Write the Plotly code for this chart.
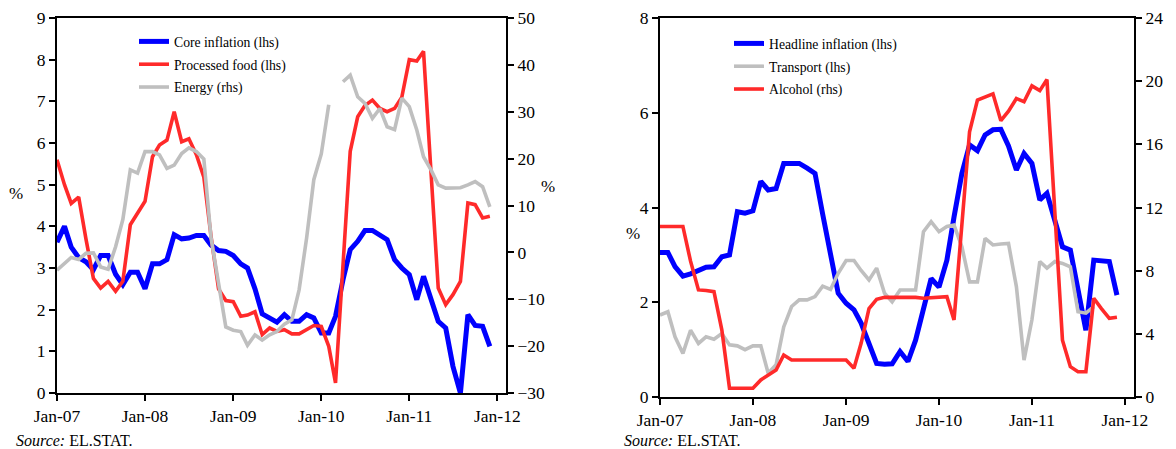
import pandas as pd
import plotly.graph_objects as go

W, H = 1176, 449
months = pd.date_range("2007-01-01", periods=60, freq="MS")

# ---- Left chart data ----
core_inflation = [3.62, 4.0, 3.5, 3.25, 3.15, 2.96, 3.3, 3.3, 2.85, 2.6,
                  2.9, 2.9, 2.5, 3.1, 3.1, 3.2, 3.8, 3.7, 3.72, 3.78,
                  3.78, 3.55, 3.42, 3.4, 3.3, 3.1, 3.0, 2.5, 1.9, 1.8,
                  1.7, 1.88, 1.72, 1.72, 1.88, 1.8, 1.44, 1.44, 1.84, 2.72,
                  3.44, 3.64, 3.9, 3.9, 3.8, 3.68, 3.2, 3.0, 2.84, 2.24,
                  2.8, 2.24, 1.72, 1.56, 0.64, 0.0, 1.88, 1.62, 1.6, 1.12]
processed_food = [5.6, 5.0, 4.55, 4.7, 3.7, 2.75, 2.52, 2.68, 2.44, 2.68,
                  4.04, 4.32, 4.6, 5.67, 5.95, 6.07, 6.75, 6.03, 6.1, 5.72,
                  5.18, 3.75, 2.5, 2.22, 2.19, 1.84, 1.87, 1.95, 1.4, 1.56,
                  1.48, 1.52, 1.42, 1.42, 1.52, 1.62, 1.6, 1.12, 0.24, 3.0,
                  5.8, 6.63, 6.9, 7.03, 6.83, 6.75, 6.83, 7.1, 8.0, 7.97,
                  8.2, 5.3, 2.52, 2.12, 2.36, 2.68, 4.56, 4.52, 4.2, 4.24]
energy = [-3.8, -2.4, -1.1, -1.5, -0.2, -0.1, -3.1, -3.6, 1.2, 7.0,
          17.6, 16.9, 21.5, 21.5, 20.8, 17.9, 18.6, 21.1, 22.3, 21.5,
          19.9, 3.0, -7.0, -15.9, -16.6, -16.9, -19.8, -17.6, -18.7, -17.6,
          -16.9, -15.3, -14.4, -8.0, 3.0, 15.5, 21.0, 31.5, None, 36.4,
          37.8, 33.2, 31.8, 28.6, 30.7, 26.8, 26.2, 32.9, 31.1, 26.1,
          20.4, 17.6, 14.4, 13.7, 13.7, 13.8, 14.4, 15.1, 14.0, 9.7]

# ---- Right chart data ----
headline_inflation = [3.05, 3.05, 2.75, 2.55, 2.6, 2.67, 2.74, 2.75, 2.96, 3.0,
                      3.91, 3.88, 3.93, 4.55, 4.37, 4.4, 4.93, 4.93, 4.93, 4.83,
                      4.72, 3.86, 3.02, 2.19, 1.98, 1.84, 1.56, 1.13, 0.71, 0.69,
                      0.7, 0.96, 0.75, 1.2, 1.84, 2.5, 2.32, 2.89, 3.8, 4.72,
                      5.32, 5.2, 5.53, 5.64, 5.65, 5.3, 4.79, 5.14, 4.93, 4.16,
                      4.3, 3.7, 3.17, 3.1, 2.2, 1.41, 2.89, 2.88, 2.86, 2.15]
transport = [1.73, 1.8, 1.27, 0.92, 1.41, 1.13, 1.27, 1.22, 1.34, 1.1,
             1.08, 1.0, 1.08, 1.08, 0.5, 0.68, 1.48, 1.91, 2.05, 2.05,
             2.12, 2.34, 2.27, 2.61, 2.88, 2.88, 2.67, 2.47, 2.72, 2.19,
             2.01, 2.26, 2.26, 2.26, 3.49, 3.7, 3.49, 3.6, 3.63, 3.17,
             2.43, 2.43, 3.35, 3.21, 3.23, 3.24, 2.33, 0.78, 1.63, 2.86,
             2.72, 2.86, 2.82, 2.75, 1.8, 1.77, 1.91, None, None, None]
alcohol = [10.8, 10.8, 10.8, 10.8, 8.6, 6.78, 6.74, 6.67, 4.24, 0.55,
           0.55, 0.55, 0.55, 1.08, 1.39, 1.71, 2.66, 2.34, 2.34, 2.34,
           2.34, 2.34, 2.34, 2.34, 2.34, 1.82, 3.4, 5.6, 6.19, 6.31,
           6.31, 6.31, 6.31, 6.31, 6.25, 6.3, 6.32, 6.35, 4.88, 10.8,
           16.8, 18.8, 19.0, 19.2, 17.5, 18.1, 18.9, 18.7, 19.7, 19.4,
           20.1, 11.5, 3.6, 1.92, 1.6, 1.6, 6.25, 5.6, 4.98, 5.05]

BLUE = "#0000FF"
RED = "#FF2A2A"
GRAY = "#BFBFBF"
FONT = "Liberation Serif"

fig = go.Figure()
fig.add_trace(go.Scatter(x=months, y=core_inflation, name="Core inflation (lhs)",
                         mode="lines", line=dict(color=BLUE, width=5),
                         xaxis="x", yaxis="y", legend="legend", legendgroup="a"))
fig.add_trace(go.Scatter(x=months, y=processed_food, name="Processed food (lhs)",
                         mode="lines", line=dict(color=RED, width=3.6),
                         xaxis="x", yaxis="y", legend="legend", legendgroup="b"))
fig.add_trace(go.Scatter(x=months, y=energy, name="Energy (rhs)",
                         mode="lines", line=dict(color=GRAY, width=3.6),
                         xaxis="x", yaxis="y2", legend="legend", legendgroup="c"))

fig.add_trace(go.Scatter(x=months, y=headline_inflation, name="Headline inflation (lhs)",
                         mode="lines", line=dict(color=BLUE, width=5),
                         xaxis="x2", yaxis="y3", legend="legend2", legendgroup="d"))
fig.add_trace(go.Scatter(x=months, y=transport, name="Transport (lhs)",
                         mode="lines", line=dict(color=GRAY, width=3.6),
                         xaxis="x2", yaxis="y3", legend="legend2", legendgroup="e"))
fig.add_trace(go.Scatter(x=months, y=alcohol, name="Alcohol (rhs)",
                         mode="lines", line=dict(color=RED, width=3.6),
                         xaxis="x2", yaxis="y4", legend="legend2", legendgroup="f"))

def px_x(p):
    return p / W

def px_y(p):
    return 1 - p / H

axis_common = dict(showline=True, linecolor="black", linewidth=2, ticks="outside",
                   ticklen=6, tickwidth=2, tickcolor="black", showgrid=False,
                   zeroline=False, automargin=False,
                   tickfont=dict(family=FONT, size=17.5, color="black"))

xcommon = dict(axis_common, type="date", tick0="2007-01-01", dtick="M12",
               tickformat="%b-%y", range=["2007-01-01", "2012-02-06"], mirror=True)

legend_common = dict(xanchor="left", yanchor="top", bgcolor="rgba(0,0,0,0)",
                     font=dict(family=FONT, size=13.7, color="black"),
                     tracegroupgap=2, traceorder="grouped")

fig.update_layout(
    template="none",
    width=W, height=H, margin=dict(l=0, r=0, t=0, b=0, pad=0, autoexpand=False),
    paper_bgcolor="white", plot_bgcolor="white",
    font=dict(family=FONT, color="black"),
    xaxis=dict(xcommon, domain=[px_x(57), px_x(506)], anchor="y"),
    yaxis=dict(axis_common, domain=[px_y(393), px_y(18)], range=[0, 9], dtick=1, anchor="x"),
    yaxis2=dict(axis_common, range=[-30, 50], dtick=10, overlaying="y", side="right", anchor="x"),
    xaxis2=dict(xcommon, domain=[px_x(660), px_x(1134)], anchor="y3"),
    yaxis3=dict(axis_common, domain=[px_y(397), px_y(18)], range=[0, 8], dtick=2, anchor="x2"),
    yaxis4=dict(axis_common, range=[0, 24], dtick=4, overlaying="y3", side="right", anchor="x2"),
    legend=dict(legend_common, x=px_x(134), y=px_y(26)),
    legend2=dict(legend_common, x=px_x(729), y=px_y(28)),
    showlegend=True,
)

annots = [
    dict(text="%", x=px_x(16), y=px_y(193)),
    dict(text="%", x=px_x(548), y=px_y(186)),
    dict(text="%", x=px_x(633), y=px_y(234)),
]
for a in annots:
    fig.add_annotation(xref="paper", yref="paper", showarrow=False,
                       xanchor="center", yanchor="middle",
                       font=dict(family=FONT, size=17, color="black"), **a)
for sx in (14, 622):
    fig.add_annotation(xref="paper", yref="paper", showarrow=False,
                       x=px_x(sx), y=px_y(440), xanchor="left", yanchor="middle",
                       text="<i>Source:</i> EL.STAT.",
                       font=dict(family=FONT, size=16, color="black"))

fig.write_html("out.html", config={"displayModeBar": False},
               post_script="document.body.style.margin='0';document.body.style.overflow='hidden';")
